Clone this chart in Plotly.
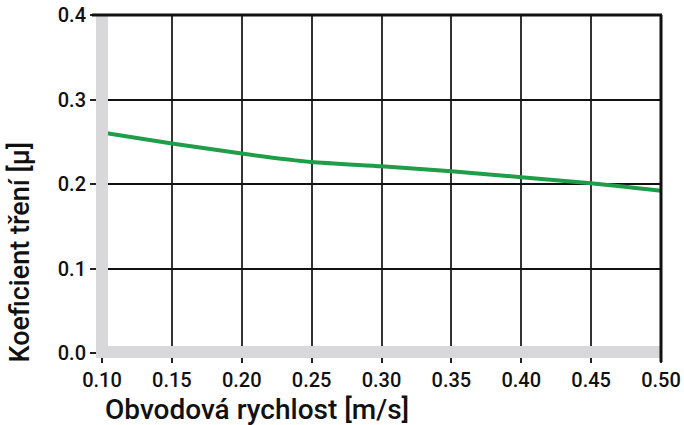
import plotly.graph_objects as go

# Data
speed = [0.10, 0.15, 0.20, 0.25, 0.30, 0.35, 0.40, 0.45, 0.50]
mu = [0.261, 0.248, 0.236, 0.226, 0.221, 0.215, 0.208, 0.201, 0.192]
x_ticks = [0.10, 0.15, 0.20, 0.25, 0.30, 0.35, 0.40, 0.45, 0.50]
x_ticklabels = ["0.10", "0.15", "0.20", "0.25", "0.30", "0.35", "0.40", "0.45", "0.50"]
y_ticks = [0.0, 0.1, 0.2, 0.3, 0.4]
y_ticklabels = ["0.0", "0.1", "0.2", "0.3", "0.4"]
x_title = "Obvodová rychlost [m/s]"
y_title = "Koeficient tření [µ]"

W, H = 684, 425
L, R, T, B = 102, 23, 15, 72
PW, PH = W - L - R, H - T - B

FONT = "Roboto, Liberation Sans, Arial, sans-serif"
BAND = "#d8d8da"

fig = go.Figure()
fig.add_trace(go.Scatter(
    x=speed, y=mu, mode="lines",
    line=dict(color="#1f9d48", width=4, shape="spline", smoothing=0.6),
    hoverinfo="skip", showlegend=False,
))

fig.update_xaxes(
    range=[0.10, 0.50], tickvals=x_ticks, ticktext=x_ticklabels,
    showgrid=True, gridcolor="#333333", gridwidth=1.5,
    ticks="outside", ticklen=9, tickwidth=1.5, tickcolor="#222222",
    tickfont=dict(family=FONT, size=20, color="#111111", weight=500),
    showline=False, zeroline=False, fixedrange=True,
)
fig.update_yaxes(
    range=[0.0, 0.40], tickvals=y_ticks, ticktext=y_ticklabels,
    showgrid=True, gridcolor="#111111", gridwidth=1.5,
    ticks="outside", ticklen=11, tickwidth=1.5, tickcolor="#222222",
    tickfont=dict(family=FONT, size=20, color="#111111", weight=500),
    showline=False, zeroline=False, fixedrange=True,
)

shapes = [
    # left gray band
    dict(type="rect", xref="paper", yref="paper",
         x0=-6 / PW, x1=6 / PW, y0=-5 / PH, y1=1,
         fillcolor=BAND, line=dict(width=0), layer="above"),
    # bottom gray band
    dict(type="rect", xref="paper", yref="paper",
         x0=-6 / PW, x1=(PW - 1) / PW, y0=-5 / PH, y1=7 / PH,
         fillcolor=BAND, line=dict(width=0), layer="above"),
    # top border
    dict(type="line", xref="paper", yref="paper",
         x0=-10 / PW, x1=1 + 1 / PW, y0=1, y1=1,
         line=dict(color="#111111", width=3), layer="above"),
    # right border
    dict(type="line", xref="paper", yref="paper",
         x0=1, x1=1, y0=-9 / PH, y1=1,
         line=dict(color="#111111", width=3), layer="above"),
]

annotations = [
    dict(text=x_title, xref="paper", yref="paper",
         x=1 / PW, y=-56 / PH, xanchor="left", yanchor="middle",
         showarrow=False, font=dict(family=FONT, size=28, color="#111111", weight=500)),
    dict(text=y_title, xref="paper", yref="paper", textangle=-90,
         x=-83 / PW, y=-12 / PH, xanchor="center", yanchor="bottom",
         showarrow=False, font=dict(family=FONT, size=27, color="#111111", weight=500)),
]

fig.update_layout(
    width=W, height=H,
    margin=dict(l=L, r=R, t=T, b=B, autoexpand=False),
    paper_bgcolor="white", plot_bgcolor="white",
    shapes=shapes, annotations=annotations,
    showlegend=False,
)

fig.write_html("out.html", config={"displayModeBar": False},
               post_script="document.body.style.margin='0';")
